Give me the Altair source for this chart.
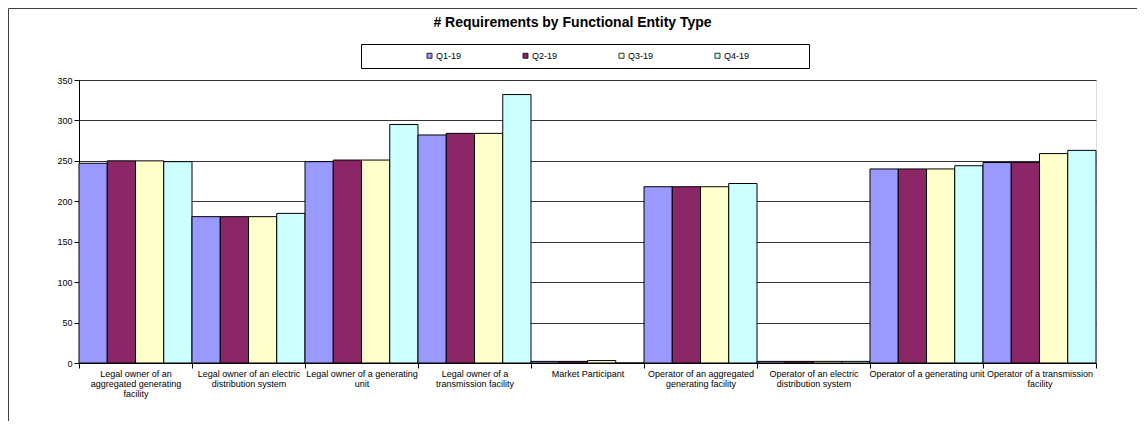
import altair as alt
import pandas as pd

categories = [
    "Legal owner of an|aggregated generating|facility",
    "Legal owner of an electric|distribution system",
    "Legal owner of a generating|unit",
    "Legal owner of a|transmission facility",
    "Market Participant",
    "Operator of an aggregated|generating facility",
    "Operator of an electric|distribution system",
    "Operator of a generating unit",
    "Operator of a transmission|facility",
]
quarters = ["Q1-19", "Q2-19", "Q3-19", "Q4-19"]
q1_19 = [247, 181, 249, 282, 2, 218, 2, 240, 248]
q2_19 = [250, 181, 251, 284, 2, 218, 2, 240, 248]
q3_19 = [250, 181, 251, 284, 3, 218, 2, 240, 259]
q4_19 = [249, 185, 295, 332, 0, 222, 2, 244, 263]
colors = ["#9999FF", "#8B2667", "#FFFFCC", "#CCFFFF"]
y_ticks = [0, 50, 100, 150, 200, 250, 300, 350]

rows = []
for i, cat in enumerate(categories):
    for q, vals in zip(quarters, [q1_19, q2_19, q3_19, q4_19]):
        rows.append({"category": cat, "quarter": q, "value": vals[i]})
df = pd.DataFrame(rows)

FONT = "Liberation Sans"
pad_label = "\u00a0" * 21 + "\u200b"

bars = alt.Chart(df).mark_bar(stroke="#000000", strokeWidth=1).encode(
    x=alt.X(
        "category:N",
        sort=categories,
        scale=alt.Scale(paddingInner=0, paddingOuter=0),
        axis=alt.Axis(
            title=None,
            labelAngle=0,
            labelExpr="split(datum.label, '|')",
            labelFont=FONT,
            labelFontSize=9,
            labelColor="#000000",
            labelLineHeight=10,
            labelPadding=1,
            labelOverlap=False,
            labelLimit=200,
            tickBand="extent",
            tickSize=5,
            tickColor="#000000",
            domainColor="#000000",
            grid=False,
        ),
    ),
    xOffset=alt.XOffset(
        "quarter:N", sort=quarters, scale=alt.Scale(paddingInner=0, paddingOuter=0)
    ),
    y=alt.Y(
        "value:Q",
        scale=alt.Scale(domain=[0, 350], nice=False),
        axis=alt.Axis(
            title=None,
            values=y_ticks,
            labelFont=FONT,
            labelFontSize=9,
            labelColor="#000000",
            labelPadding=2,
            tickSize=5,
            tickColor="#000000",
            domainColor="#000000",
            grid=True,
            gridColor="#333333",
            gridWidth=1,
        ),
    ),
    color=alt.Color(
        "quarter:N",
        sort=quarters,
        scale=alt.Scale(domain=quarters, range=colors),
        legend=alt.Legend(
            orient="none",
            legendX=282,
            legendY=-36,
            direction="horizontal",
            columns=4,
            title="\u00a0",
            titleOrient="left",
            titlePadding=57,
            symbolType="square",
            symbolSize=25,
            symbolStrokeColor="#000000",
            symbolStrokeWidth=0.8,
            labelFont=FONT,
            labelFontSize=9,
            labelColor="#000000",
            labelOffset=2,
            labelLimit=300,
            columnPadding=59,
            padding=7,
            strokeColor="#000000",
            fillColor="#FFFFFF",
            labelExpr=f"datum.label == '{quarters[-1]}' ? datum.label + '{pad_label}' : datum.label",
        ),
    ),
)

frame = alt.Chart(pd.DataFrame({"f": [0]})).mark_rect(
    filled=False, stroke="#404040", strokeWidth=1
).encode(
    x=alt.value(-70.5), x2=alt.value(1200), y=alt.value(-71.5), y2=alt.value(500)
)

chart = alt.layer(frame, bars).properties(
    width=1017,
    height=283,
    title=alt.TitleParams(
        "# Requirements by Functional Entity Type",
        font=FONT,
        fontSize=14,
        fontWeight="bold",
        color="#000000",
        anchor="middle",
        frame="group",
        dx=-15,
        offset=-22,
    ),
    autosize=alt.AutoSizeParams(type="none"),
    padding={"left": 71, "top": 72, "right": 41, "bottom": 58},
).configure_view(fill="#C0C0C0", stroke="#999999").configure(background="#FFFFFF")

chart.save("out.html", embed_options={"renderer": "svg", "actions": False})
